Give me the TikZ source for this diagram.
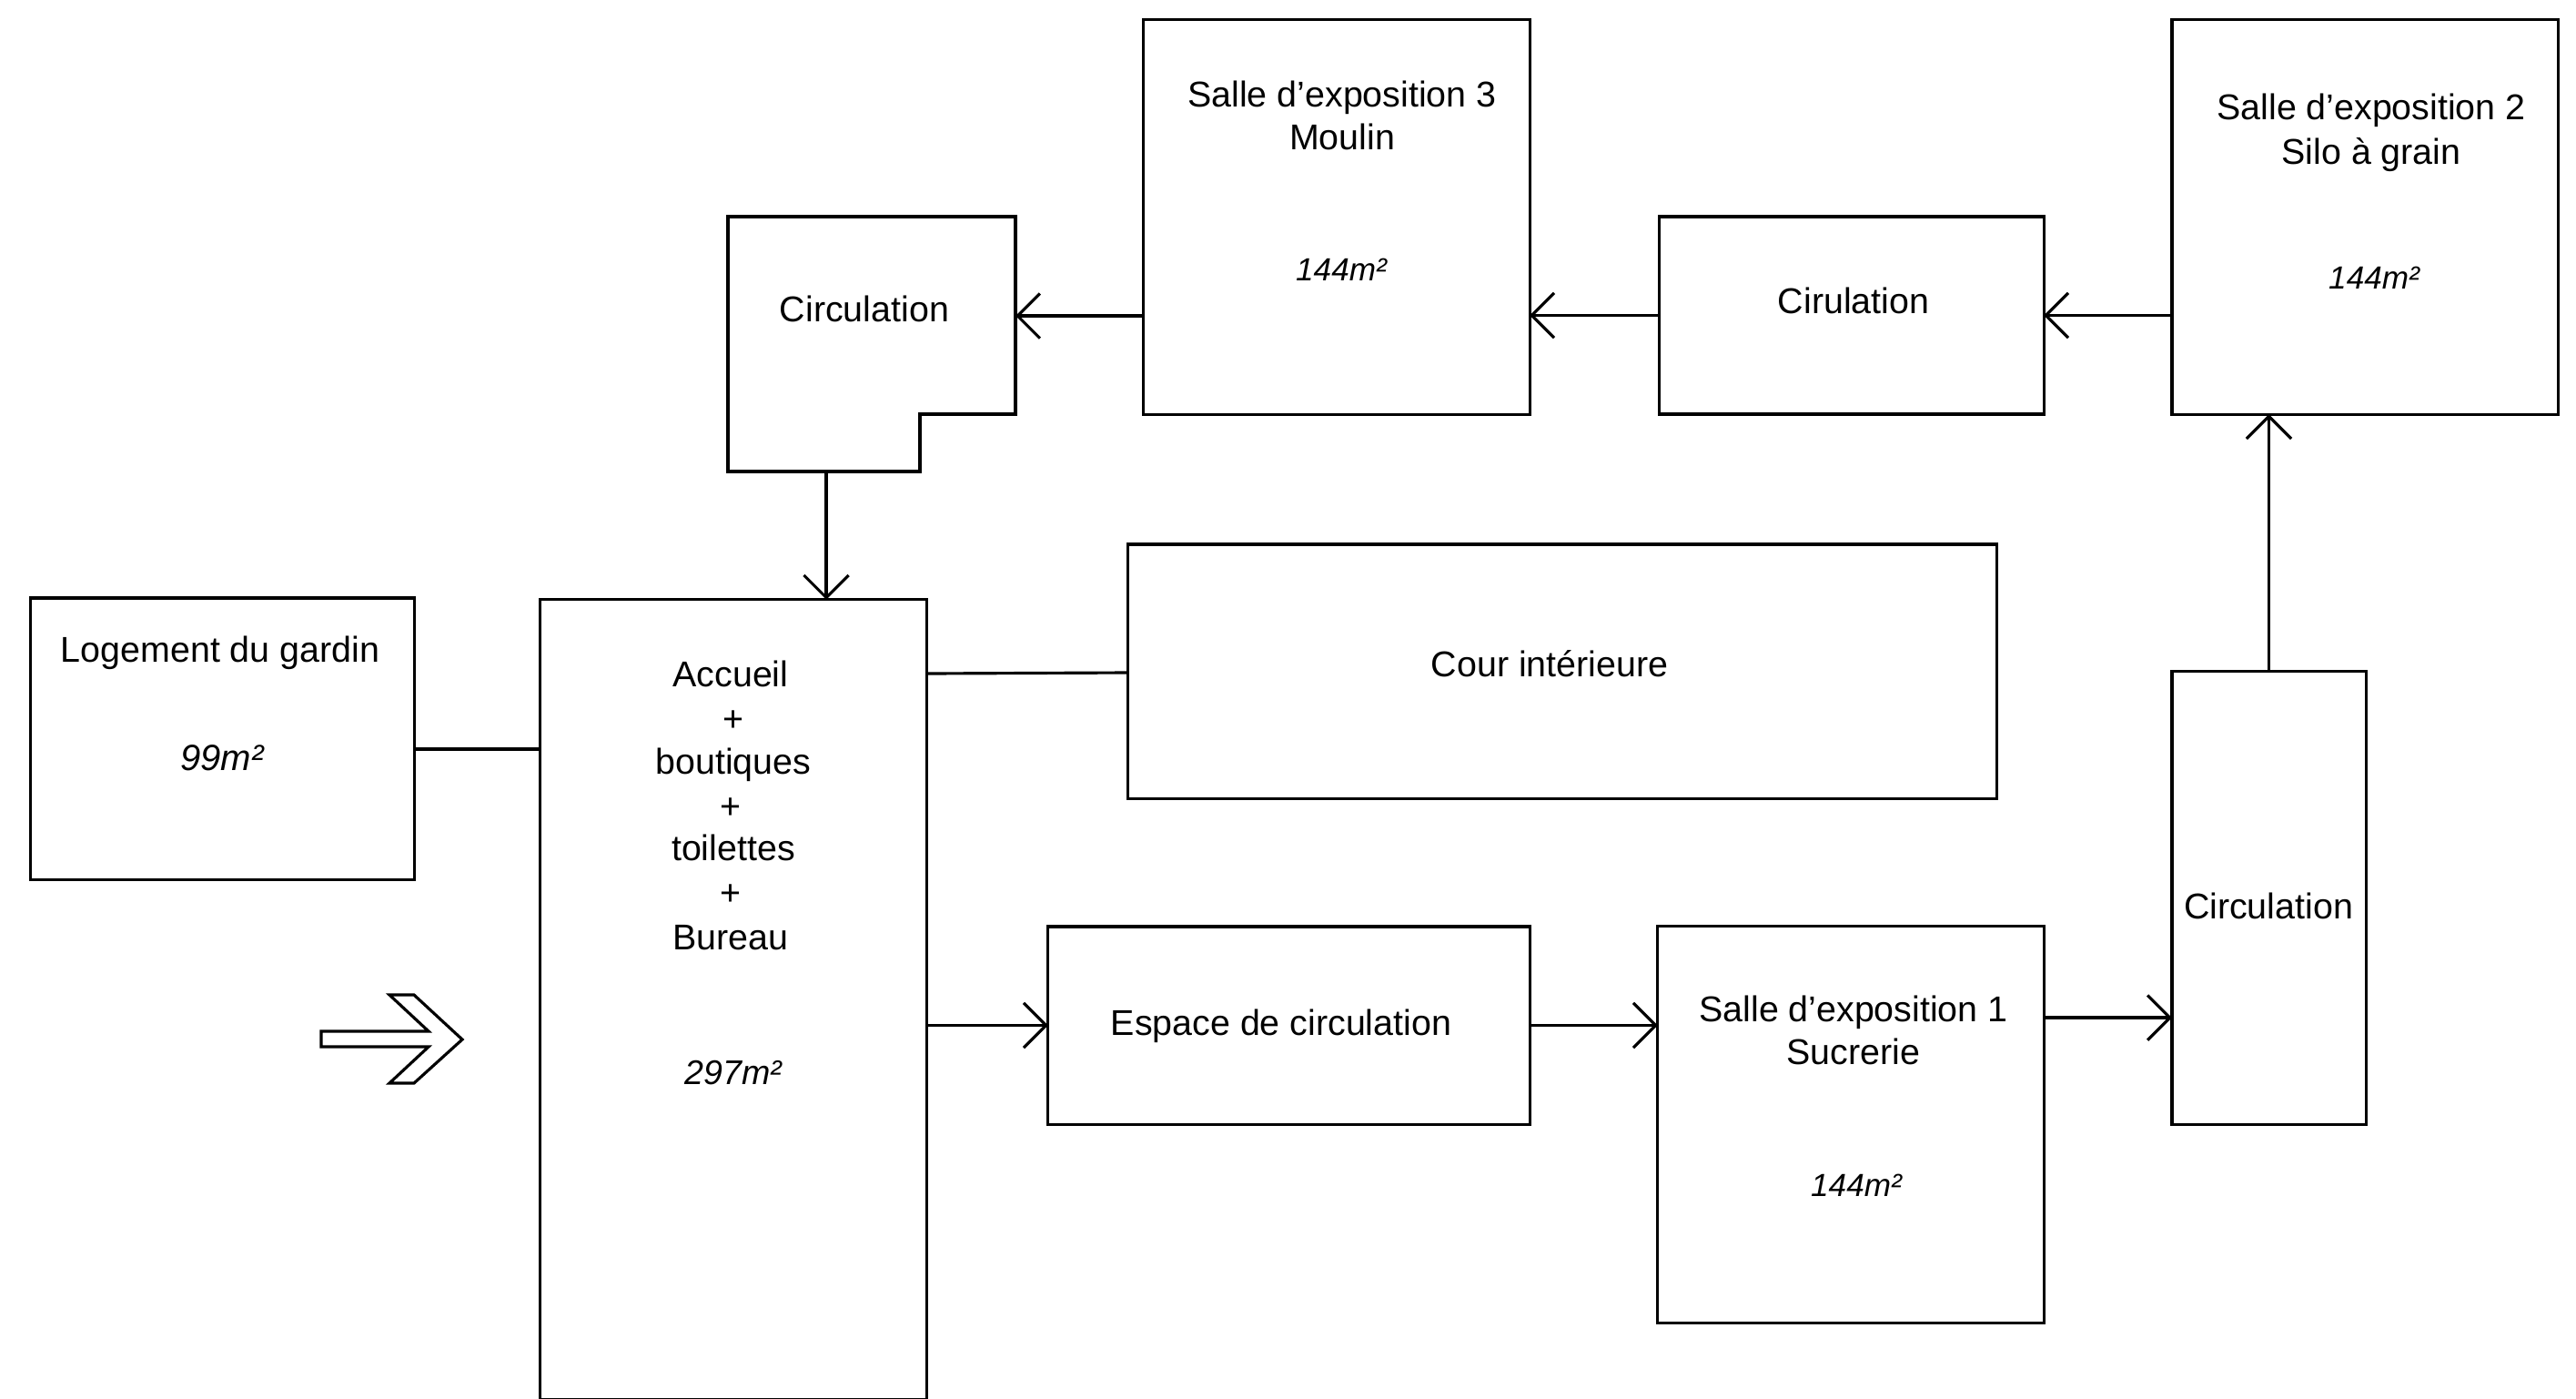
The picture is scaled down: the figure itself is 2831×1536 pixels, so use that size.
\documentclass[tikz,border=0pt]{standalone}
\usepackage{fontspec}
\setmainfont{Liberation Sans}
\usetikzlibrary{arrows.meta}
\tikzset{
  box/.style={draw, line width=0.9pt, inner sep=0pt, outer sep=0pt},
  lbl/.style={inner sep=0pt, text height=0.72em, text depth=0pt, font=\fontsize{11.2}{14}\selectfont},
  area/.style={lbl, font=\fontsize{#1}{12}\selectfont\itshape},
  area/.default=10,
  link/.style={line width=0.9pt},
  arr/.style={line width=0.9pt, -{Straight Barb[length=7pt,width=14pt,line width=0.9pt]}},
}
\begin{document}
\begin{tikzpicture}[x=0.01cm,y=-0.01cm]
\useasboundingbox (0,0) rectangle (2831,1536);
% boxes
\node[box, minimum width=4.24cm, minimum height=4.33cm] (s3) at (1469,238.5) {};
\node[box, minimum width=4.24cm, minimum height=4.33cm] (s2) at (2599,238.5) {};
\node[box, minimum width=4.22cm, minimum height=2.17cm] (cir) at (2035,346.5) {};
\node[box, minimum width=4.21cm, minimum height=3.09cm] (log) at (244.5,811.5) {};
\node[box, minimum width=4.24cm, minimum height=8.78cm] (acc) at (806,1098) {};
\node[box, minimum width=9.54cm, minimum height=2.79cm] (cour) at (1717,737.5) {};
\node[box, minimum width=5.29cm, minimum height=2.17cm] (esp) at (1416.5,1126.5) {};
\node[box, minimum width=4.24cm, minimum height=4.35cm] (s1) at (2034,1235.5) {};
\node[box, minimum width=2.13cm, minimum height=4.97cm] (cr) at (2493.5,986.5) {};
% L-shaped circulation
\coordinate (clTL) at (800,238);
\coordinate (clTR) at (1116,238);
\coordinate (clNR) at (1116,455);
\coordinate (clNI) at (1011,455);
\coordinate (clBI) at (1011,518);
\coordinate (clBL) at (800,518);
\draw[line width=0.9pt, line join=miter] (clTL) -- (clTR) -- (clNR) -- (clNI) -- (clBI) -- (clBL) -- cycle;
\coordinate (clE) at (1116,347);
\coordinate (clS) at (908,518);
% entrance arrow
\draw[line width=0.9pt, line join=miter] (353,1133) coordinate (ea) -- (471,1133) -- (428,1093) -- (455,1093) -- (508,1142) -- (455,1190) -- (428,1190) -- (471,1150) -- (353,1150) -- cycle;
% texts
\node[lbl] (t3a) at (1475,105) {Salle d’exposition 3};
\node[lbl] (t3b) at (1475,152) {Moulin};
\node[area] (t3c) at (1474,296) {144m²};
\node[lbl] (t2a) at (2606,119) {Salle d’exposition 2};
\node[lbl] (t2b) at (2606,168) {Silo à grain};
\node[area] (t2c) at (2609,305) {144m²};
\node[lbl] (tcl) at (950,341) {Circulation};
\node[lbl] (tcir) at (2037,332) {Cirulation};
\node[lbl] (tlog) at (242,715) {Logement du gardin};
\node[area=11.4] (tlogb) at (244,834) {99m²};
\node[lbl] (ta1) at (803,742) {Accueil};
\node[lbl] (ta2) at (806,791) {+};
\node[lbl] (ta3) at (806,838) {boutiques};
\node[lbl] (ta4) at (803,887) {+};
\node[lbl] (ta5) at (806,933) {toilettes};
\node[lbl] (ta6) at (803,982) {+};
\node[lbl] (ta7) at (803,1031) {Bureau};
\node[area=10.7] (ta8) at (806,1179) {297m²};
\node[lbl] (tcour) at (1703,731) {Cour intérieure};
\node[lbl] (tesp) at (1408,1125) {Espace de circulation};
\node[lbl] (t1a) at (2037,1110) {Salle d’exposition 1};
\node[lbl] (t1b) at (2037,1157) {Sucrerie};
\node[area] (t1c) at (2040,1302) {144m²};
\node[lbl] (tcr) at (2493,997) {Circulation};
% connectors
\draw[arr] (s3.west |- clE) -- (clE);
\draw[arr] (cir.west) -- (s3.east |- cir.west);
\draw[arr] (s2.west |- cir.east) -- (cir.east);
\draw[arr] (clS) -- (acc.north -| clS);
\draw[link] (log.east |- 0,823) -- (acc.west |- 0,823);
\draw[link] (acc.east |- 0,740) -- (cour.west |- 0,739);
\draw[arr] (acc.east |- esp.west) -- (esp.west);
\draw[arr] (esp.east) -- (s1.west |- esp.east);
\draw[arr] (s1.east |- 0,1118) -- (cr.west |- 0,1118);
\draw[arr] (cr.north) -- (s2.south -| cr.north);
\end{tikzpicture}
\end{document}
